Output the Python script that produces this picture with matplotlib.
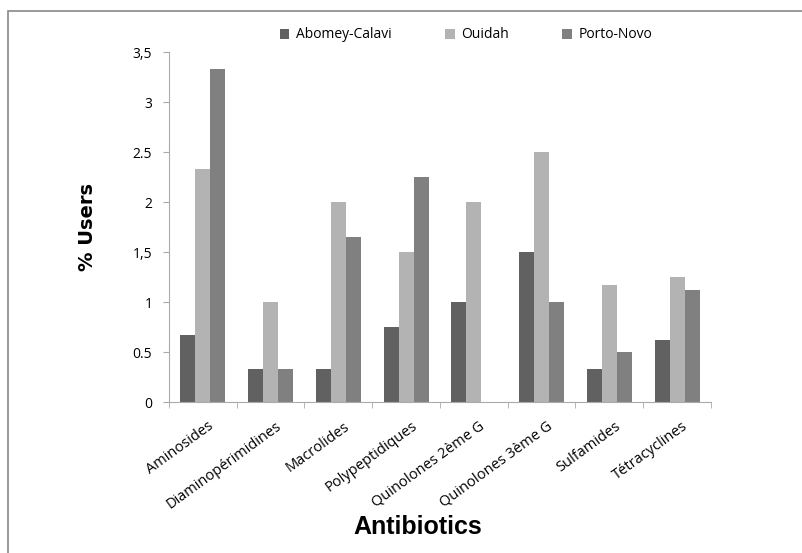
import numpy as np
import matplotlib.pyplot as plt
import matplotlib.transforms as mtransforms
from matplotlib.patches import Rectangle

# antibiotic classes and % of users per town
categories = ['Aminosides', 'Diaminopérimidines', 'Macrolides', 'Polypeptidiques',
              'Quinolones 2ème G', 'Quinolones 3ème G', 'Sulfamides', 'Tétracyclines']
abomey = [0.67, 0.33, 0.33, 0.75, 1.0, 1.5, 0.33, 0.625]
ouidah = [2.33, 1.0, 2.0, 1.5, 2.0, 2.5, 1.17, 1.25]
porto = [3.33, 0.33, 1.65, 2.25, 0.0, 1.0, 0.5, 1.125]
series = ['Abomey-Calavi', 'Ouidah', 'Porto-Novo']
colors = ['#616161', '#b3b3b3', '#808080']
yticks = [0, 0.5, 1, 1.5, 2, 2.5, 3, 3.5]
ylabels = ['0', '0.5', '1', '1,5', '2', '2.5', '3', '3,5']

plt.rcParams['font.family'] = ['Open Sans', 'DejaVu Sans']

fig = plt.figure(figsize=(8.03, 5.53), dpi=100)
# outer chart frame (cropped on right/bottom)
fig.patches.append(Rectangle((8 / 803, -0.1), 1.2, (553 - 11) / 553 + 0.1,
                             transform=fig.transFigure, fill=False,
                             edgecolor='#888888', linewidth=1.2))

ax = fig.add_axes([169 / 803, 1 - 402 / 553, (711 - 169) / 803, 350 / 553])

x = np.arange(len(categories))
w = 1 / 4.5
for i, (vals, lab, c) in enumerate(zip([abomey, ouidah, porto], series, colors)):
    ax.bar(x + (i - 1) * w, vals, w, color=c, label=lab)

ax.set_xlim(-0.5, len(categories) - 0.5)
ax.set_ylim(0, 3.5)
ax.set_yticks(yticks)
ax.set_yticklabels(ylabels, fontsize=10)
ax.set_xticks(x)
ax.set_xticklabels(categories, rotation=36, ha='right', rotation_mode='anchor', fontsize=10.5)
ax.tick_params(axis='x', length=0, pad=12)
shift = mtransforms.ScaledTranslation(5 / 100, 0, fig.dpi_scale_trans)
for lbl in ax.get_xticklabels():
    lbl.set_transform(lbl.get_transform() + shift)
ax.set_xticks(np.arange(len(categories) + 1) - 0.5, minor=True)
ax.tick_params(axis='x', which='minor', length=4, color='#aaaaaa', direction='out')
ax.tick_params(axis='y', length=4, color='#aaaaaa', direction='out', pad=8)

for s in ['top', 'right']:
    ax.spines[s].set_visible(False)
for s in ['left', 'bottom']:
    ax.spines[s].set_color('#aaaaaa')

ax.set_ylabel('% Users', fontsize=14, fontweight='bold', family='DejaVu Sans', labelpad=26)
fig.text(418 / 803, 1 - 527 / 553, 'Antibiotics', fontsize=18, fontweight='bold',
         family='Liberation Sans', ha='center', va='center')

ax.legend(loc='center', bbox_to_anchor=(466 / 803, (553 - 35) / 553), bbox_transform=fig.transFigure,
          ncol=3, frameon=False, fontsize=10, handlelength=0.7, handleheight=0.7,
          columnspacing=3.8, handletextpad=0.5)

fig.savefig('out.png', dpi=100)
